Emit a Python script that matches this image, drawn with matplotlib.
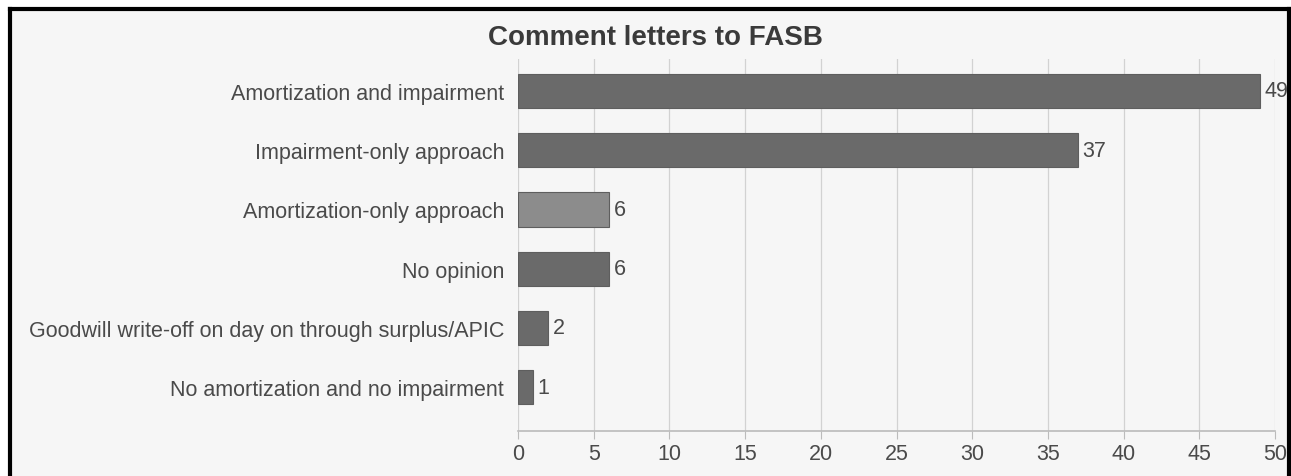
import matplotlib
matplotlib.use("Agg")
import matplotlib.pyplot as plt
from matplotlib.patches import Rectangle
from matplotlib.lines import Line2D

categories = [
    "Amortization and impairment",
    "Impairment-only approach",
    "Amortization-only approach",
    "No opinion",
    "Goodwill write-off on day on through surplus/APIC",
    "No amortization and no impairment",
]
values = [49, 37, 6, 6, 2, 1]
bar_colors = ["#6a6a6a", "#6a6a6a", "#8c8c8c", "#6a6a6a", "#6a6a6a", "#6a6a6a"]
xticks = [0, 5, 10, 15, 20, 25, 30, 35, 40, 45, 50]
title = "Comment letters to FASB"

plt.rcParams['font.family'] = ['Liberation Sans', 'DejaVu Sans']

W, H = 1291, 477
fig = plt.figure(figsize=(W / 100, H / 100), dpi=100)
fig.patch.set_facecolor("white")

# inner gray panel and black frame
fig.patches.append(Rectangle((10 / W, 0), (1288 - 10) / W, 1 - 10 / H,
                             transform=fig.transFigure, facecolor="#f6f6f6",
                             edgecolor="none", zorder=-10))
lw = 3
for xs, ys in [([9.5 / W, 9.5 / W], [0, 1 - 9.5 / H]),
               ([9.5 / W, 1288.5 / W], [1 - 9.5 / H, 1 - 9.5 / H]),
               ([1288.5 / W, 1288.5 / W], [0, 1 - 9.5 / H])]:
    fig.lines.append(Line2D(xs, ys, transform=fig.transFigure, color="black",
                            lw=lw, zorder=10))

ax = fig.add_axes([518 / W, 1 - 432 / H, (1275 - 518) / W, (432 - 60) / H])
ax.set_facecolor("none")

FS = 15.5
pos = list(range(len(categories)))
ax.barh(pos, values, height=0.58, color=bar_colors, edgecolor="#5e5e5e",
        linewidth=0.8, zorder=3)
for p, v in zip(pos, values):
    ax.text(v + 0.3, p, str(v), va="center", ha="left", fontsize=FS,
            color="#4a4a4a", zorder=4)

ax.set_ylim(5.74, -0.54)
ax.set_xlim(0, 50)
ax.set_xticks(xticks)
ax.set_yticks(pos)
ax.set_yticklabels(categories, fontsize=FS, color="#4a4a4a")
ax.tick_params(axis="y", length=0, pad=10)
ax.tick_params(axis="x", length=6, color="#bbbbbb", labelsize=FS,
               labelcolor="#4a4a4a", pad=3)
for s in ["top", "right", "left"]:
    ax.spines[s].set_visible(False)
ax.spines["bottom"].set_color("#bbbbbb")
ax.spines["bottom"].set_linewidth(1.2)
ax.grid(axis="x", color="#d2d2d2", linewidth=0.9, zorder=0)
ax.set_axisbelow(True)

fig.text(655 / W, 1 - 38 / H, title, ha="center", va="center", fontsize=20,
         fontweight="bold", color="#3a3a3a")

fig.savefig("out.png", dpi=100, facecolor=fig.get_facecolor())
